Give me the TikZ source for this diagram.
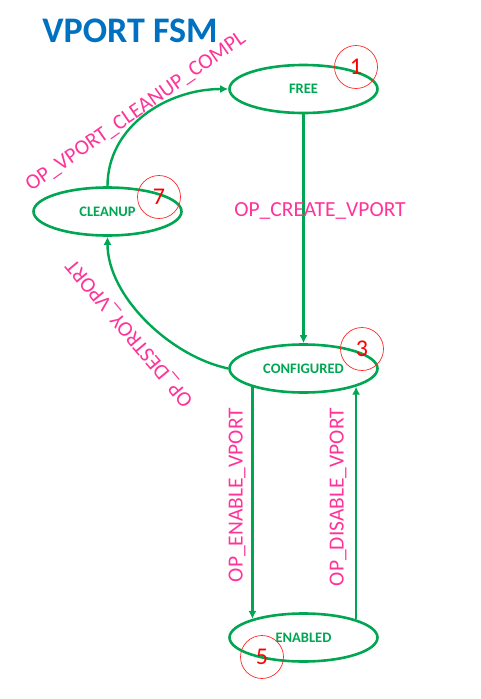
\documentclass[tikz,border=0pt]{standalone}
\usepackage{fontspec}
\setmainfont{Carlito}
\usepackage{tikz}
\usetikzlibrary{arrows.meta}
\usepgflibrary{shapes}

\definecolor{fsmgreen}{HTML}{00A651}
\definecolor{fsmpink}{HTML}{FF3399}
\definecolor{fsmblue}{HTML}{0070C0}

\begin{document}
\begin{tikzpicture}[x=1pt, y=1pt,
    state/.style={ellipse, draw=fsmgreen, line width=2.6pt, minimum width=148pt, minimum height=48pt, text=fsmgreen, font=\fontsize{14.5}{16}\selectfont\bfseries},
    badge/.style={circle, draw=red!85, line width=0.7pt, minimum size=43pt, inner sep=0pt, text=red, font=\fontsize{24}{27}\selectfont},
    trans/.style={draw=fsmgreen, line width=2.4pt, -{Latex[length=8pt,width=8pt]}},
    oplabel/.style={text=fsmpink, font=\fontsize{21.5}{25}\selectfont}]
    \useasboundingbox (0,0) rectangle (480,-699);

    % the title
    \node[text=fsmblue, font=\fontsize{36}{40}\selectfont\bfseries] (title) at (130,-31) {VPORT FSM};

    % the states
    \node[state] (free) at (303.5,-89) {FREE};
    \node[state] (clean) at (107.5,-211.5) {CLEANUP};
    \node[state] (conf) at (303.5,-368.5) {CONFIGURED};
    \node[state] (enab) at (303.5,-637.5) {ENABLED};

    % the transitions
    \draw[trans] (free) -- (conf);
    \draw[trans] (conf.-160.8) -- (enab.160.8);
    \draw[trans] (enab.19.2) -- (conf.-19.2);
    \draw[trans] (conf.west) to[out=168, in=-90, looseness=0.85] (clean.south);
    \draw[trans] (clean.north) to[out=90, in=180] (free.west);

    % the transition labels
    \node[oplabel] (lcreate) at (320,-211) {OP\_CREATE\_VPORT};
    \node[oplabel, rotate=35] (lcleanup) at (136,-112) {OP\_VPORT\_CLEANUP\_COMPL};
    \node[oplabel, rotate=130] (ldestroy) at (130,-333) {OP\_DESTROY\_VPORT};
    \node[oplabel, rotate=90] (lenable) at (237,-495) {OP\_ENABLE\_VPORT};
    \node[oplabel, rotate=90] (ldisable) at (338,-497) {OP\_DISABLE\_VPORT};

    % numbered badges
    \node[badge] (n1) at (356,-67) {1};
    \node[badge] (n7) at (159,-197) {7};
    \node[badge] (n3) at (362,-349) {3};
    \node[badge] (n5) at (262,-657) {5};
\end{tikzpicture}
\end{document}
